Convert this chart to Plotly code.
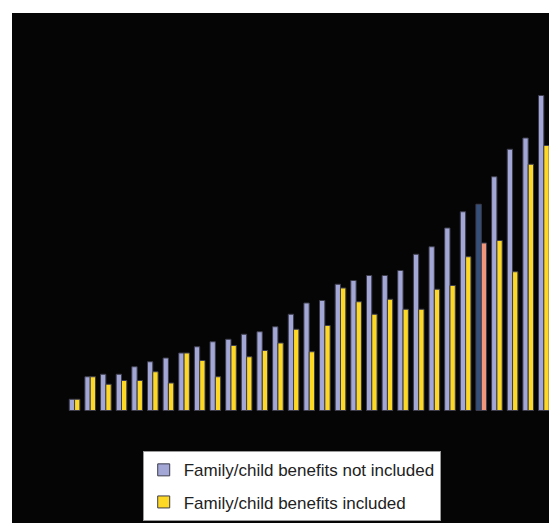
import plotly.graph_objects as go

# Categories (countries, unlabeled in the reference) ordered by value
categories = list(range(1, 32))

# Family/child benefits not included
not_included = [0.9, 2.7, 2.9, 2.9, 3.5, 3.9, 4.2, 4.6, 5.1, 5.5, 5.7, 6.1, 6.3, 6.7, 7.7,
                8.6, 8.8, 10.1, 10.4, 10.8, 10.8, 11.2, 12.5, 13.1, 14.6, 15.9, 16.5,
                18.7, 20.9, 21.8, 25.2]
# Family/child benefits included
included = [0.9, 2.7, 2.1, 2.4, 2.4, 3.1, 2.2, 4.6, 4.0, 2.7, 5.2, 4.3, 4.8, 5.4, 6.5,
            4.7, 6.8, 9.8, 8.7, 7.7, 8.9, 8.1, 8.1, 9.7, 10.0, 12.3, 13.4,
            13.6, 11.1, 19.7, 21.2]

highlight = [27]  # highlighted category

series_names = ["Family/child benefits not included", "Family/child benefits included"]

BLUE = "#A3A7D5"
YELLOW = "#FDD824"
DARK_BLUE = "#34507A"
SALMON = "#F2967B"

blue_colors = [DARK_BLUE if c in highlight else BLUE for c in categories]
yellow_colors = [SALMON if c in highlight else YELLOW for c in categories]

fig = go.Figure()
fig.add_trace(go.Bar(
    x=categories, y=not_included, name=series_names[0],
    marker=dict(color=blue_colors, line=dict(color="#3c3c4c", width=1)),
    legendgroup="a",
))
fig.add_trace(go.Bar(
    x=categories, y=included, name=series_names[1],
    marker=dict(color=yellow_colors, line=dict(color="#3c3c4c", width=1)),
    legendgroup="b",
))

fig.update_layout(
    width=549, height=523,
    margin=dict(l=12, r=0, t=13, b=0),
    paper_bgcolor="white",
    plot_bgcolor="#050505",
    barmode="group",
    bargap=0.32,
    bargroupgap=0,
    font=dict(family="Liberation Sans, Arial, sans-serif", color="#222222"),
    showlegend=True,
    legend=dict(
        x=0.2434, y=0.1406, xanchor="left", yanchor="top",
        bgcolor="white", bordercolor="#9a9a9a", borderwidth=1,
        font=dict(size=17, color="#222222"),
        tracegroupgap=7,
        traceorder="grouped",
    ),
    xaxis=dict(range=[-3.0, 31.33], showgrid=False, zeroline=False,
               showticklabels=False, ticks="", showline=False),
    yaxis=dict(range=[-9.0, 31.8], showgrid=False, zeroline=False,
               showticklabels=False, ticks="", showline=False),
)

fig.write_html("out.html",
               config={"displayModeBar": False},
               post_script="document.body.style.margin='0';document.body.style.overflow='hidden';")
